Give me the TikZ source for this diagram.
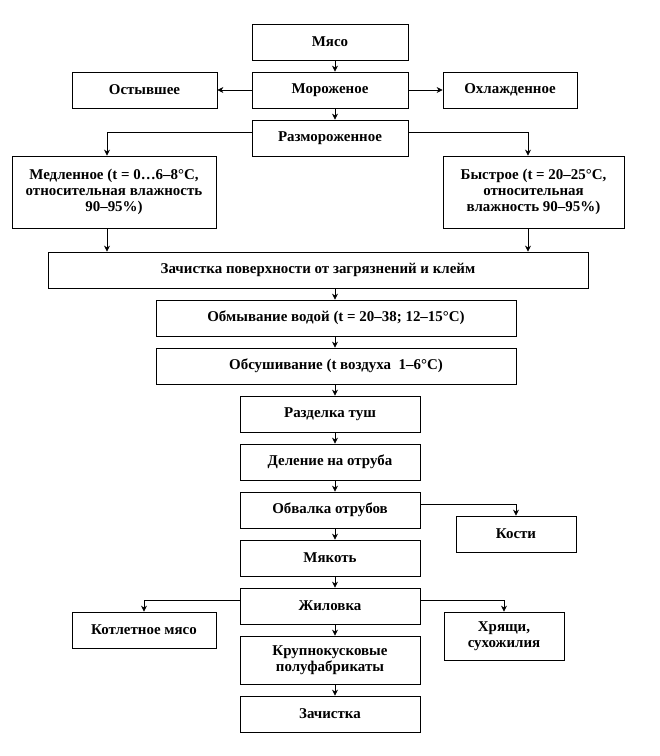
\documentclass[tikz,border=0pt]{standalone}
\usepackage{fontspec}
\setmainfont{Liberation Serif}
\usetikzlibrary{arrows.meta,positioning}

\begin{document}
\begin{tikzpicture}[x=1bp, y=-1bp,
    stage/.style={draw, line width=0.8pt, inner sep=2pt, align=center,
        minimum height=36bp, font=\bfseries\fontsize{15}{16}\selectfont},
    arr/.style={line width=0.7pt, -{Stealth[length=6pt,width=6pt]}}]
            \useasboundingbox (0,0) rectangle (660,756);
            % First, locate each of the nodes and name them
            \node[stage, minimum width=156bp] (meat) at (330,42) {Мясо};
            \node[stage, minimum width=156bp] (frozen) at (330,90) {Мороженое};
            \node[stage, minimum width=145bp] (cooled) at (144.5,90) {Остывшее};
            \node[stage, minimum width=134bp] (chilled) at (510,90) {Охлажденное};
            \node[stage, minimum width=156bp] (thawed) at (330,138) {Размороженное};

            \node[stage, minimum width=204bp, minimum height=72bp] (slow) at (114,192)
                {Медленное (t = 0…6–8°С,\\ относительная влажность\\ 90–95\%)};
            \node[stage, minimum width=181bp, minimum height=72bp] (fast) at (533.5,192)
                {Быстрое (t = 20–25°С,\\ относительная\\ влажность 90–95\%)};

            \node[stage, minimum width=540bp] (clean) at (318,270) {Зачистка поверхности от загрязнений и клейм};
            \node[stage, minimum width=360bp] (wash) at (336,318) {Обмывание водой (t = 20–38; 12–15°С)};
            \node[stage, minimum width=360bp] (dry) at (336,366) {Обсушивание (t воздуха~ 1–6°С)};

            \node[stage, minimum width=180bp] (carcass) at (330,414) {Разделка туш};
            \node[stage, minimum width=180bp] (cuts) at (330,462) {Деление на отруба};
            \node[stage, minimum width=180bp] (debone) at (330,510) {Обвалка отрубов};
            \node[stage, minimum width=120bp] (bones) at (516,534) {Кости};
            \node[stage, minimum width=180bp] (pulp) at (330,558) {Мякоть};
            \node[stage, minimum width=180bp] (sinew) at (330,606) {Жиловка};
            \node[stage, minimum width=144bp] (cutlet) at (144,630) {Котлетное мясо};
            \node[stage, minimum width=120bp, minimum height=48bp] (gristle) at (504,636) {Хрящи,\\ сухожилия};
            \node[stage, minimum width=180bp, minimum height=48bp] (chunks) at (330,660) {Крупнокусковые\\ полуфабрикаты};
            \node[stage, minimum width=180bp] (trim) at (330,714) {Зачистка};

            \coordinate (axis) at (335,0);

            % Main column
            \draw[arr] (meat.south -| axis) -- (frozen.north -| axis);
            \draw[arr] (frozen.south -| axis) -- (thawed.north -| axis);
            \draw[arr] (clean.south -| axis) -- (wash.north -| axis);
            \draw[arr] (wash.south -| axis) -- (dry.north -| axis);
            \draw[arr] (dry.south -| axis) -- (carcass.north -| axis);
            \draw[arr] (carcass.south -| axis) -- (cuts.north -| axis);
            \draw[arr] (cuts.south -| axis) -- (debone.north -| axis);
            \draw[arr] (debone.south -| axis) -- (pulp.north -| axis);
            \draw[arr] (pulp.south -| axis) -- (sinew.north -| axis);
            \draw[arr] (sinew.south -| axis) -- (chunks.north -| axis);
            \draw[arr] (chunks.south -| axis) -- (trim.north -| axis);

            % Side branches of frozen meat
            \draw[arr] (frozen.west) -- (cooled.east);
            \draw[arr] (frozen.east) -- (chilled.west);

            % Thawing
            \draw[arr] ([yshift=6]thawed.west) -| ([xshift=-7]slow.north);
            \draw[arr] ([yshift=6]thawed.east) -| ([xshift=-5.5]fast.north);
            \draw[arr] ([xshift=-7]slow.south) -- ([xshift=-7]slow.south |- clean.north);
            \draw[arr] ([xshift=-5.5]fast.south) -- ([xshift=-5.5]fast.south |- clean.north);

            % Waste
            \draw[arr] ([yshift=6]debone.east) -| (bones.north);
            \draw[arr] ([yshift=6]sinew.west) -| (cutlet.north);
            \draw[arr] ([yshift=6]sinew.east) -| (gristle.north);
        \end{tikzpicture}
\end{document}
